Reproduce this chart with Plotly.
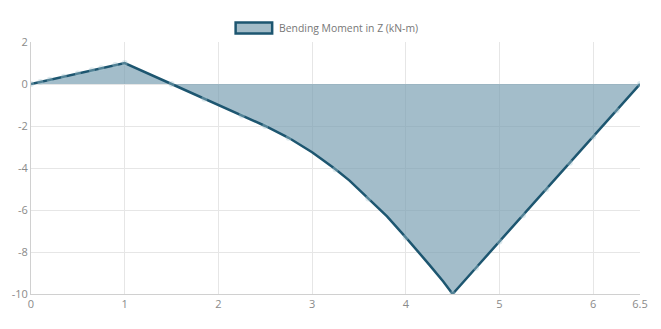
import plotly.graph_objects as go

x_vals = [0, 0.1, 0.2, 0.35, 0.5, 0.65, 0.75, 0.9, 1.0, 1.5, 1.85, 2.25, 2.5, 2.75, 2.9, 3.0, 3.1, 3.25, 3.4, 3.6, 3.8, 4.0, 4.1, 4.25, 4.4, 4.5, 4.75, 5.0, 5.25, 5.5, 5.75, 6.0, 6.25, 6.5]
moment = [0, 0.1, 0.2, 0.35, 0.5, 0.65, 0.75, 0.9, 1.0, 0.0, -0.7, -1.5, -2.0, -2.56, -2.97, -3.25, -3.57, -4.06, -4.6, -5.45, -6.3, -7.3, -7.8, -8.6, -9.4, -10.0, -8.75, -7.5, -6.25, -5.0, -3.75, -2.5, -1.25, 0.0]
marker_on = [1, 1, 1, 1, 1, 1, 1, 1, 1, 1, 1, 1, 1, 1, 0, 0, 0, 1, 0, 1, 0, 1, 0, 0, 0, 1, 1, 1, 1, 1, 1, 1, 1, 1]
x_ticks = [0, 1, 2, 3, 4, 5, 6, 6.5]
y_ticks = [2, 0, -2, -4, -6, -8, -10]

LINE = "#1d5670"
FILL = "rgba(120,158,177,0.68)"
NAME = "Bending Moment in Z (kN-m)"

fig = go.Figure()
fig.add_trace(go.Scatter(
    x=x_vals, y=moment, mode="lines+markers", fill="tozeroy",
    fillcolor=FILL,
    line=dict(color=LINE, width=2.5),
    marker=dict(size=[6 * m for m in marker_on], color="rgba(170,200,212,0.55)", line=dict(width=0)),
    name=NAME, showlegend=False,
))

# legend swatch + label (Chart.js style box legend)
fig.add_shape(type="rect", xref="paper", yref="paper",
              x0=0.336, x1=0.396, y0=1.034, y1=1.077,
              fillcolor="#a3bcc8", line=dict(color=LINE, width=2.5))
fig.add_annotation(text=NAME, xref="paper", yref="paper", x=0.404, y=1.055,
                   xanchor="left", yanchor="middle", showarrow=False,
                   font=dict(family="Open Sans", size=10.4, color="#777"))

fig.update_layout(
    width=661, height=329,
    margin=dict(l=31, r=21, t=42, b=35),
    paper_bgcolor="white", plot_bgcolor="white",
    font=dict(family="Open Sans", size=11, color="#8a8a8a"),
    showlegend=False,
)
fig.update_xaxes(range=[0, 6.5], tickvals=x_ticks, ticktext=[str(t) for t in x_ticks],
                 showgrid=True, gridcolor="#e6e6e6", zeroline=False,
                 showline=True, linecolor="#d0d0d0", ticks="", ticklen=0)
fig.update_yaxes(range=[-10, 2], tickvals=y_ticks, ticktext=[str(t) for t in y_ticks],
                 showgrid=True, gridcolor="#e6e6e6", zeroline=False,
                 showline=True, linecolor="#d0d0d0", ticks="")

fig.write_html("out.html")
